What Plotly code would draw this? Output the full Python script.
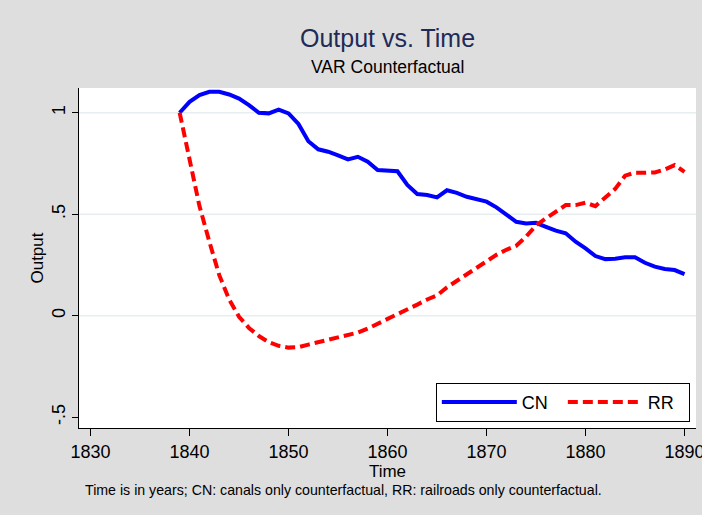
import plotly.graph_objects as go

# Annual output paths under the two counterfactuals
years = list(range(1839, 1891))
cn_output = [1.000, 1.054, 1.087, 1.103, 1.103, 1.090, 1.070, 1.038, 1.000, 0.997,
             1.015, 0.997, 0.945, 0.860, 0.820, 0.808, 0.790, 0.770, 0.783, 0.759,
             0.718, 0.716, 0.712, 0.644, 0.600, 0.595, 0.583, 0.618, 0.605, 0.586,
             0.575, 0.562, 0.534, 0.496, 0.463, 0.455, 0.458, 0.438, 0.419, 0.406,
             0.365, 0.332, 0.294, 0.279, 0.281, 0.288, 0.288, 0.261, 0.242, 0.230,
             0.225, 0.205]
rr_output = [1.000, 0.780, 0.540, 0.365, 0.200, 0.080, -0.005, -0.060, -0.100, -0.130,
             -0.148, -0.157, -0.155, -0.142, -0.130, -0.117, -0.108, -0.095, -0.083, -0.063,
             -0.040, -0.018, 0.008, 0.030, 0.055, 0.080, 0.100, 0.140, 0.172, 0.205,
             0.235, 0.270, 0.300, 0.325, 0.345, 0.390, 0.445, 0.480, 0.515, 0.545,
             0.545, 0.557, 0.540, 0.580, 0.625, 0.690, 0.705, 0.704, 0.706, 0.720,
             0.742, 0.709]

x_ticks = [1830, 1840, 1850, 1860, 1870, 1880, 1890]
y_ticks = [-0.5, 0, 0.5, 1]
y_tick_text = ["-.5", "0", ".5", "1"]
grid_vals = [0, 0.5, 1]

FONT = "Liberation Sans, Arial, sans-serif"
BG = "#dedede"

fig = go.Figure()
fig.add_trace(go.Scatter(x=years, y=cn_output, mode="lines", name="CN",
                         line=dict(color="#0000ff", width=4)))
fig.add_trace(go.Scatter(x=years, y=rr_output, mode="lines", name="RR",
                         line=dict(color="#ff0000", width=4, dash="10px,5px")))

# light horizontal grid lines
for g in grid_vals:
    fig.add_shape(type="line", xref="paper", x0=0, x1=1, yref="y", y0=g, y1=g,
                  line=dict(color="#e6eef0", width=1.5), layer="below")

fig.update_layout(
    width=702, height=515,
    paper_bgcolor=BG, plot_bgcolor="white",
    margin=dict(l=79, r=6, t=88, b=87, autoexpand=False),
    font=dict(family=FONT, color="black"),
    title=dict(text="Output vs. Time", x=0.552, xanchor="center",
               y=1 - 38 / 515, yanchor="middle", yref="container",
               font=dict(size=25, color="#1f2b57", family=FONT)),
    showlegend=True,
    legend=dict(orientation="h", x=0.990, xanchor="right", y=0.018, yanchor="bottom",
                bgcolor="white", bordercolor="black", borderwidth=1,
                font=dict(size=18, family=FONT), itemwidth=75,
                entrywidth=36, traceorder="normal"),
    xaxis=dict(range=[1828.83, 1891.16], tickvals=x_ticks, ticks="outside",
               ticklen=7, tickcolor="black", showline=True, linecolor="black",
               linewidth=1, showgrid=False, zeroline=False, mirror=False,
               tickfont=dict(size=18), ticklabeloverflow="allow", automargin=False,
               title=dict(text="Time", font=dict(size=17), standoff=0)),
    yaxis=dict(range=[-0.553, 1.122], tickvals=y_ticks, ticktext=y_tick_text,
               ticks="outside", ticklen=6, tickcolor="black", showline=True,
               linecolor="black", linewidth=1, showgrid=False, zeroline=False,
               tickangle=-90, tickfont=dict(size=18), automargin=False,
               title=dict(text="Output", font=dict(size=17), standoff=0)),
)

fig.add_annotation(text="VAR Counterfactual", xref="paper", x=0.5, xanchor="center",
                   yref="paper", y=1 + (88 - 67) / 340, yanchor="middle",
                   showarrow=False, font=dict(size=17.5, color="black"))
fig.add_annotation(text="Time is in years; CN: canals only counterfactual, RR: railroads only counterfactual.",
                   xref="paper", x=(83 - 79) / 617, xanchor="left",
                   yref="paper", y=-(490 - 428) / 340, yanchor="middle",
                   showarrow=False, font=dict(size=14.2, color="black"))

fig.write_html("out.html")
